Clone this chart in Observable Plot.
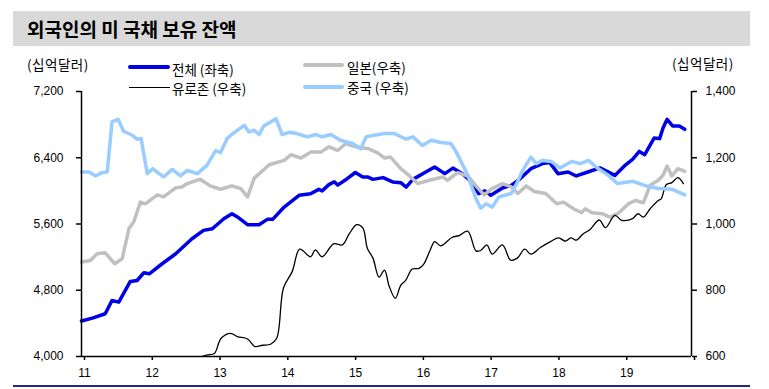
<!DOCTYPE html>
<html>
<head>
<meta charset="utf-8">
<script src="https://cdn.jsdelivr.net/npm/d3@7"></script>
<script src="https://cdn.jsdelivr.net/npm/@observablehq/plot@0.6"></script>
<style>
  html, body { margin: 0; padding: 0; background: #fff; }
  #wrap { position: relative; width: 769px; height: 389px; overflow: hidden; font-family: "Noto Sans CJK KR", "Noto Sans", sans-serif; color: #000; }
  .abs { position: absolute; white-space: nowrap; }
  #titlebar { left: 13px; top: 11px; width: 737px; height: 35px; background: #d9d9d9; }
  #title { left: 27px; top: 19px; font-size: 19px; line-height: 20px; font-weight: bold; }
  .unit { font-size: 13.5px; line-height: 16px; letter-spacing: 0.5px; }
  .lg { font-size: 13.5px; line-height: 16px; }
  .sw { position: absolute; }
  #chart { position: absolute; left: 0; top: 80px; }
  #bottomline { left: 13px; top: 385px; width: 737px; height: 1.5px; background: #1f2a8a; }
</style>
</head>
<body>
<div id="wrap">
  <div id="titlebar" class="abs"></div>
  <div id="title" class="abs">외국인의 미 국채 보유 잔액</div>
  <div class="abs unit" style="left:27px; top:56px;">(십억달러)</div>
  <div class="abs unit" style="left:672px; top:55px;">(십억달러)</div>

  <div class="sw" style="left:128px; top:65px; width:42px; height:4px; background:#0000e6; border-radius:2px;"></div>
  <div class="abs lg" style="left:172px; top:61px;">전체 (좌축)</div>
  <div class="sw" style="left:303px; top:63px; width:41px; height:4px; background:#c0c0c0; border-radius:2px;"></div>
  <div class="abs lg" style="left:347px; top:59px;">일본(우축)</div>
  <div class="sw" style="left:129px; top:86.5px; width:41px; height:1.5px; background:#000;"></div>
  <div class="abs lg" style="left:172px; top:80px;">유로존 (우축)</div>
  <div class="sw" style="left:303px; top:85px; width:41px; height:4px; background:#99ccff; border-radius:2px;"></div>
  <div class="abs lg" style="left:347px; top:79px;">중국 (우축)</div>

  <div id="chart"></div>
  <div id="bottomline" class="abs"></div>
</div>
<script>
// 전체 (좌축, 십억달러): [year, value]
const totalSeries = [[2011.00,4428],[2011.16,4464],[2011.35,4516],[2011.45,4677],[2011.55,4657],[2011.72,4906],[2011.82,4918],[2011.92,5011],[2012.00,4999],[2012.19,5120],[2012.39,5241],[2012.63,5422],[2012.80,5523],[2012.93,5543],[2013.10,5664],[2013.22,5725],[2013.30,5685],[2013.45,5592],[2013.62,5592],[2013.74,5656],[2013.82,5656],[2013.99,5805],[2014.21,5946],[2014.38,5966],[2014.50,6018],[2014.55,6000],[2014.65,6075],[2014.73,6110],[2014.78,6070],[2014.92,6147],[2015.04,6222],[2015.15,6168],[2015.22,6168],[2015.30,6139],[2015.45,6160],[2015.59,6108],[2015.71,6099],[2015.79,6045],[2015.89,6139],[2016.06,6220],[2016.21,6289],[2016.36,6208],[2016.48,6275],[2016.62,6208],[2016.77,6099],[2016.86,5966],[2016.95,6000],[2017.04,5946],[2017.21,6035],[2017.34,6067],[2017.46,6139],[2017.63,6268],[2017.69,6289],[2017.80,6329],[2017.91,6341],[2018.03,6208],[2018.18,6228],[2018.30,6180],[2018.47,6228],[2018.65,6277],[2018.87,6187],[2019.01,6301],[2019.13,6381],[2019.23,6477],[2019.31,6437],[2019.45,6639],[2019.53,6631],[2019.58,6760],[2019.64,6864],[2019.72,6784],[2019.82,6784],[2019.90,6743]];
// 일본 (우축)
const japanSeries = [[2011.00,885],[2011.13,890],[2011.23,910],[2011.35,913],[2011.49,880],[2011.60,895],[2011.70,986],[2011.77,1006],[2011.87,1066],[2011.94,1061],[2012.12,1088],[2012.21,1082],[2012.39,1109],[2012.48,1112],[2012.56,1122],[2012.75,1135],[2012.90,1115],[2013.05,1105],[2013.22,1115],[2013.35,1107],[2013.45,1082],[2013.55,1139],[2013.64,1155],[2013.77,1179],[2013.87,1185],[2013.99,1192],[2014.09,1209],[2014.24,1199],[2014.38,1217],[2014.53,1217],[2014.65,1233],[2014.78,1222],[2014.90,1243],[2015.00,1236],[2015.12,1230],[2015.24,1227],[2015.37,1215],[2015.47,1199],[2015.56,1202],[2015.71,1167],[2015.84,1145],[2015.96,1122],[2016.13,1132],[2016.33,1142],[2016.40,1132],[2016.55,1155],[2016.70,1145],[2016.82,1115],[2016.94,1088],[2017.06,1107],[2017.21,1122],[2017.34,1112],[2017.44,1092],[2017.56,1115],[2017.68,1098],[2017.85,1092],[2018.01,1061],[2018.11,1066],[2018.26,1046],[2018.38,1034],[2018.43,1046],[2018.53,1034],[2018.68,1031],[2018.80,1021],[2018.93,1034],[2019.07,1061],[2019.17,1071],[2019.29,1064],[2019.39,1117],[2019.51,1132],[2019.58,1147],[2019.64,1175],[2019.71,1145],[2019.80,1167],[2019.90,1159]];
// 유로존 (우축)
const euroSeries = [[2012.73,597],[2012.86,605],[2012.96,609],[2013.06,655],[2013.20,670],[2013.30,660],[2013.45,653],[2013.56,630],[2013.67,634],[2013.79,637],[2013.88,655],[2013.98,807],[2014.11,857],[2014.22,924],[2014.38,901],[2014.45,922],[2014.55,901],[2014.72,940],[2014.85,937],[2014.95,970],[2015.06,998],[2015.15,988],[2015.22,925],[2015.30,897],[2015.39,840],[2015.47,861],[2015.54,812],[2015.63,776],[2015.71,815],[2015.78,829],[2015.88,864],[2015.98,866],[2016.05,879],[2016.15,924],[2016.21,947],[2016.30,934],[2016.47,960],[2016.57,965],[2016.70,978],[2016.82,919],[2016.89,920],[2016.98,937],[2017.06,909],[2017.21,937],[2017.33,891],[2017.43,897],[2017.54,924],[2017.63,909],[2017.77,929],[2017.92,947],[2018.04,958],[2018.14,948],[2018.22,958],[2018.30,951],[2018.40,970],[2018.50,983],[2018.64,1012],[2018.73,989],[2018.87,1026],[2018.97,1011],[2019.13,1016],[2019.21,1031],[2019.29,1021],[2019.39,1046],[2019.51,1071],[2019.55,1075],[2019.63,1119],[2019.71,1125],[2019.80,1140],[2019.88,1122]];
// 중국 (우축)
const chinaSeries = [[2011.00,1157],[2011.11,1157],[2011.21,1145],[2011.30,1155],[2011.38,1157],[2011.45,1308],[2011.54,1316],[2011.62,1280],[2011.75,1268],[2011.82,1256],[2011.88,1258],[2011.97,1152],[2012.05,1167],[2012.21,1142],[2012.34,1165],[2012.46,1145],[2012.56,1162],[2012.71,1152],[2012.85,1177],[2012.98,1222],[2013.05,1215],[2013.15,1258],[2013.20,1268],[2013.40,1298],[2013.47,1278],[2013.55,1283],[2013.62,1270],[2013.69,1296],[2013.87,1318],[2013.96,1270],[2014.07,1277],[2014.18,1273],[2014.33,1263],[2014.46,1270],[2014.55,1263],[2014.68,1270],[2014.82,1253],[2015.00,1243],[2015.12,1227],[2015.20,1263],[2015.32,1268],[2015.47,1273],[2015.62,1273],[2015.79,1256],[2015.89,1263],[2016.03,1237],[2016.16,1253],[2016.30,1246],[2016.45,1243],[2016.53,1217],[2016.70,1147],[2016.82,1076],[2016.89,1048],[2016.97,1061],[2017.06,1051],[2017.16,1082],[2017.34,1092],[2017.41,1117],[2017.51,1162],[2017.63,1202],[2017.71,1182],[2017.80,1192],[2017.93,1189],[2018.06,1169],[2018.23,1189],[2018.36,1182],[2018.48,1192],[2018.61,1169],[2018.76,1149],[2018.91,1122],[2019.13,1129],[2019.33,1115],[2019.51,1107],[2019.71,1105],[2019.90,1088]];

const leftTicks = [4000, 4800, 5600, 6400, 7200];
const rightTicks = [600, 800, 1000, 1200, 1400];
const xTicks = [2011, 2012, 2013, 2014, 2015, 2016, 2017, 2018, 2019, 2020];

// map right-axis values onto the left-axis scale (600..1400 <-> 4000..7200)
const toLeft = r => 4000 + (r - 600) * 4;
const fromLeft = v => (v - 4000) / 4 + 600;
const fmt = d3.format(",");

const chart = Plot.plot({
  width: 769,
  height: 300,
  marginLeft: 81,
  marginRight: 78,
  marginTop: 11,
  marginBottom: 24,
  style: { fontFamily: "'Liberation Sans', Arial, sans-serif", fontSize: "12px", color: "#000", background: "transparent" },
  x: { domain: [2011, 2020] },
  y: { domain: [4000, 7200] },
  marks: [
    Plot.line(totalSeries, { x: d => d[0], y: d => d[1], stroke: "#0000e6", strokeWidth: 3.5, strokeLinejoin: "round", strokeLinecap: "round" }),
    Plot.line(japanSeries, { x: d => d[0], y: d => toLeft(d[1]), stroke: "#c0c0c0", strokeWidth: 3.5, strokeLinejoin: "round", strokeLinecap: "round" }),
    Plot.line(euroSeries, { x: d => d[0], y: d => toLeft(d[1]), stroke: "#000", strokeWidth: 1.3, curve: "catmull-rom", clip: true }),
    Plot.line(chinaSeries, { x: d => d[0], y: d => toLeft(d[1]), stroke: "#99ccff", strokeWidth: 3.5, strokeLinejoin: "round", strokeLinecap: "round" }),
    Plot.ruleX([2011], { stroke: "#000", strokeWidth: 1.5 }),
    Plot.ruleX([2020], { stroke: "#000", strokeWidth: 1.5 }),
    Plot.ruleY([4000], { stroke: "#000", strokeWidth: 1.5 }),
    Plot.axisX(xTicks, { anchor: "bottom", tickSize: 4, tickPadding: 8, strokeWidth: 1.5, dx: 3, tickFormat: d => d < 2020 ? String(d % 100) : "", label: null }),
    Plot.axisY(leftTicks, { anchor: "left", tickSize: 5, tickPadding: 13, strokeWidth: 1.5, tickFormat: fmt, label: null }),
    Plot.axisY(rightTicks.map(toLeft), { anchor: "right", tickSize: 5, tickPadding: 9, strokeWidth: 1.5, tickFormat: v => fmt(fromLeft(v)), label: null })
  ]
});
document.getElementById("chart").appendChild(chart);
</script>
</body>
</html>
